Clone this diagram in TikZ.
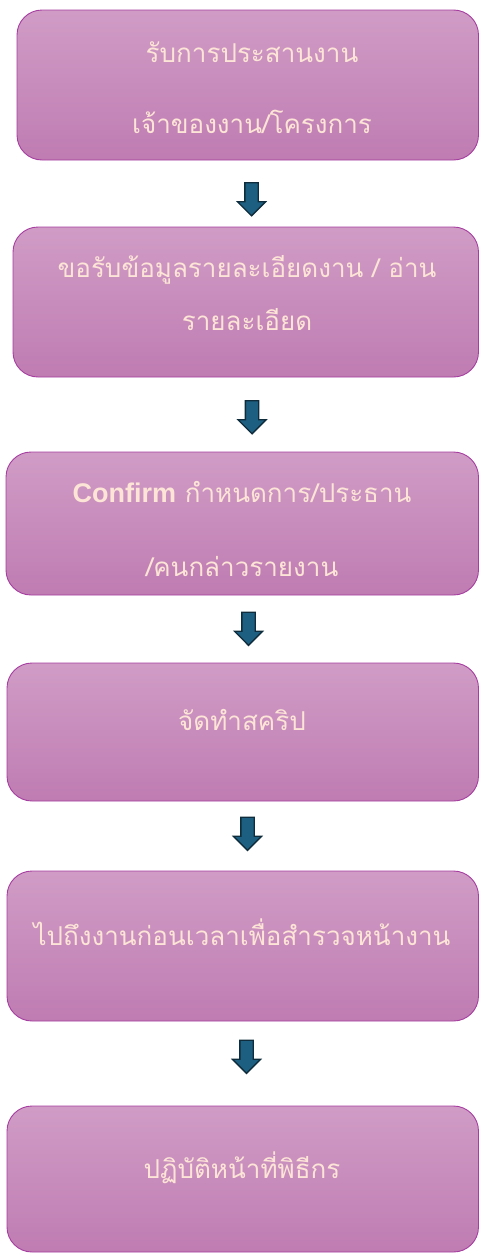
\documentclass[tikz,border=0pt]{standalone}
\usepackage{fontspec}
\setmainfont{Liberation Sans}
\newfontfamily\thaifont[Script=Thai]{Loma}
\usetikzlibrary{shapes.arrows}
\definecolor{boxtop}{HTML}{D09CC6}
\definecolor{boxbot}{HTML}{BF7CB2}
\definecolor{boxedge}{HTML}{A63DA0}
\definecolor{txt}{HTML}{FCE4D6}
\definecolor{arrfill}{HTML}{1D5F80}
\definecolor{arredge}{HTML}{0E2C3C}
\tikzset{
  flowbox/.style={draw=boxedge, line width=0.9pt, rounded corners=25pt, top color=boxtop, bottom color=boxbot},
  lbl/.style={text=txt, font=\thaifont\fontsize{26}{30}\selectfont, inner sep=0pt, anchor=center},
  downarrow/.style={single arrow, draw=arredge, fill=arrfill, line width=1.3pt,
    minimum height=33pt, minimum width=27pt, single arrow head extend=7.5pt,
    single arrow head indent=0pt, inner sep=6pt, shape border rotate=270}
}
\begin{document}
\begin{tikzpicture}[x=1pt,y=-1pt]
\useasboundingbox (0,0) rectangle (479,1253);
% boxes
\path[flowbox] (17,10) rectangle (478.5,160);
\node[inner sep=0pt] (b1) at (248,85) {};
\path[flowbox] (13,227) rectangle (478.5,377);
\node[inner sep=0pt] (b2) at (246,302) {};
\path[flowbox] (6,452) rectangle (478.5,595);
\node[inner sep=0pt] (b3) at (242,523) {};
\path[flowbox] (7,663) rectangle (478.5,801);
\node[inner sep=0pt] (b4) at (242,732) {};
\path[flowbox] (7,871) rectangle (478.5,1021);
\node[inner sep=0pt] (b5) at (242,946) {};
\path[flowbox] (7,1106) rectangle (478.5,1252);
\node[inner sep=0pt] (b6) at (242,1179) {};
% labels
\node[lbl] (t1a) at (252,52) {รับการประสานงาน};
\node[lbl] (t1b) at (252,122) {เจ้าของงาน/โครงการ};
\node[lbl] (t2a) at (247,270) {ขอรับข้อมูลรายละเอียดงาน / อ่าน};
\node[lbl] (t2b) at (247,320) {รายละเอียด};
\node[lbl] (t3a) at (242,492) {{\fontspec{Liberation Sans}\fontsize{27}{30}\selectfont\bfseries Confirm} กำหนดการ/ประธาน};
\node[lbl] (t3b) at (242,566) {/คนกล่าวรายงาน};
\node[lbl] (t4) at (242,720) {จัดทำสคริป};
\node[lbl] (t5) at (242,932) {ไปถึงงานก่อนเวลาเพื่อสำรวจหน้างาน};
\node[lbl] (t6) at (242,1168) {ปฏิบัติหน้าที่พิธีกร};
% arrows
\node[downarrow] (a1) at (251.5,196) {};
\node[downarrow] (a2) at (252,414) {};
\node[downarrow] (a3) at (248.5,625.5) {};
\node[downarrow] (a4) at (247.5,830.5) {};
\node[downarrow] (a5) at (246.5,1053.5) {};
\end{tikzpicture}
\end{document}
